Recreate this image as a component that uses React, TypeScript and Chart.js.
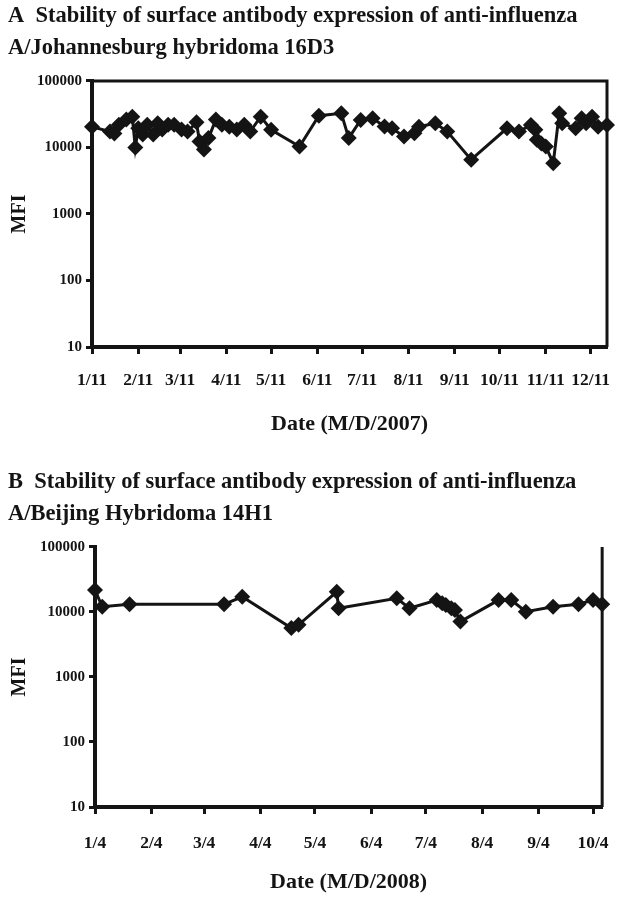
import React, { useEffect, useRef } from "react";
import { Chart, registerables } from "chart.js";

Chart.register(...registerables);

// ---------- Panel A data ----------
const titleA = [
  "A  Stability of surface antibody expression of anti-influenza",
  "A/Johannesburg hybridoma 16D3",
];
const axisTitleA = "Date (M/D/2007)";
const rangeA = ["2007-01-11", "2007-12-22"];
const tickDatesA = [
  "2007-01-11", "2007-02-11", "2007-03-11", "2007-04-11", "2007-05-11", "2007-06-11",
  "2007-07-11", "2007-08-11", "2007-09-11", "2007-10-11", "2007-11-11", "2007-12-11",
];
const tickLabelsA = ["1/11", "2/11", "3/11", "4/11", "5/11", "6/11", "7/11", "8/11", "9/11", "10/11", "11/11", "12/11"];
const datesA = [
  "2007-01-11", "2007-01-23", "2007-01-26", "2007-01-29", "2007-02-03", "2007-02-07",
  "2007-02-09", "2007-02-11", "2007-02-14", "2007-02-17", "2007-02-21", "2007-02-24",
  "2007-02-27", "2007-03-03", "2007-03-07", "2007-03-12", "2007-03-16", "2007-03-22",
  "2007-03-24", "2007-03-27", "2007-03-30", "2007-04-04", "2007-04-08", "2007-04-13",
  "2007-04-18", "2007-04-23", "2007-04-27", "2007-05-04", "2007-05-11", "2007-05-30",
  "2007-06-12", "2007-06-27", "2007-07-02", "2007-07-10", "2007-07-18", "2007-07-26",
  "2007-07-31", "2007-08-08", "2007-08-15", "2007-08-18", "2007-08-29", "2007-09-06",
  "2007-09-22", "2007-10-16", "2007-10-24", "2007-11-01", "2007-11-04", "2007-11-05",
  "2007-11-08", "2007-11-11", "2007-11-16", "2007-11-20", "2007-11-22", "2007-12-01",
  "2007-12-05", "2007-12-08", "2007-12-12", "2007-12-16", "2007-12-22",
];
const mfiA = [
  20500, 17300, 16200, 22000, 26200, 29000,
  10000, 19400, 15600, 22000, 15600, 23000,
  18600, 22000, 22000, 18600, 17300, 23800,
  12300, 9300, 13800, 26200, 22000, 20500,
  18600, 22000, 17300, 29000, 18400, 10300,
  30000, 32500, 13800, 25900, 27400, 20600,
  19400, 14600, 16300, 20500, 23000, 17300,
  6550, 19400, 17300, 21800, 18400, 13000,
  11500, 10300, 5800, 32500, 23000, 19400,
  27400, 23000, 29000, 20500, 21800,
];

// ---------- Panel B data ----------
const titleB = [
  "B  Stability of surface antibody expression of anti-influenza",
  "A/Beijing Hybridoma 14H1",
];
const axisTitleB = "Date (M/D/2008)";
const rangeB = ["2008-01-04", "2008-10-09"];
const tickDatesB = [
  "2008-01-04", "2008-02-04", "2008-03-04", "2008-04-04", "2008-05-04",
  "2008-06-04", "2008-07-04", "2008-08-04", "2008-09-04", "2008-10-04",
];
const tickLabelsB = ["1/4", "2/4", "3/4", "4/4", "5/4", "6/4", "7/4", "8/4", "9/4", "10/4"];
const datesB = [
  "2008-01-04", "2008-01-08", "2008-01-23", "2008-03-15", "2008-03-25", "2008-04-21",
  "2008-04-25", "2008-05-16", "2008-05-17", "2008-06-18", "2008-06-25", "2008-07-10",
  "2008-07-13", "2008-07-15", "2008-07-18", "2008-07-20", "2008-07-23", "2008-08-13",
  "2008-08-20", "2008-08-28", "2008-09-12", "2008-09-26", "2008-10-04", "2008-10-09",
];
const mfiB = [
  21700, 12000, 13100, 13100, 17100, 5640,
  6340, 20400, 11400, 16200, 11400, 15200,
  13600, 12800, 11400, 10700, 7100, 15200,
  15200, 10100, 12000, 13100, 15200, 13100,
];

const yTicks = [10, 100, 1000, 10000, 100000];
const yTitle = "MFI";

const FONT = '"Liberation Serif", "Times New Roman", Times, serif';
const INK = "#141414";

function dayOf(s: string, start: string) {
  const p = (t: string) => {
    const [y, m, d] = t.split("-").map(Number);
    return Date.UTC(y, m - 1, d);
  };
  return (p(s) - p(start)) / 86400000;
}

type PanelCfg = {
  title: string[];
  axisTitle: string;
  range: string[];
  tickDates: string[];
  tickLabels: string[];
  dates: string[];
  values: number[];
  frameTop: boolean;
  yWidth: number;
  titleTopPad: number;
  titleBottomPad: number;
  xHeight: number;
  xTickPad: number;
  xTitlePadBottom: number;
};

const framePlugin = {
  id: "frame",
  beforeDatasetsDraw(chart: any, _args: any, opts: any) {
    const { ctx, chartArea } = chart;
    ctx.save();
    ctx.strokeStyle = INK;
    ctx.lineWidth = 3;
    ctx.beginPath();
    if (opts && opts.top) {
      ctx.moveTo(chartArea.left, chartArea.top);
      ctx.lineTo(chartArea.right, chartArea.top);
    } else {
      ctx.moveTo(chartArea.right, chartArea.top);
    }
    ctx.lineTo(chartArea.right, chartArea.bottom);
    ctx.stroke();
    ctx.restore();
  },
};

function buildConfig(c: PanelCfg): any {
  const start = c.range[0];
  const tickDays = c.tickDates.map((d) => dayOf(d, start));
  const points = c.dates.map((d, i) => ({ x: dayOf(d, start), y: c.values[i] }));
  return {
    type: "line",
    data: {
      datasets: [
        {
          data: points,
          borderColor: INK,
          borderWidth: 3,
          backgroundColor: INK,
          pointStyle: "rectRot",
          pointRadius: 8,
          pointBorderWidth: 0,
          pointBackgroundColor: INK,
          pointBorderColor: INK,
          tension: 0,
          clip: false,
        },
      ],
    },
    options: {
      responsive: false,
      animation: false,
      devicePixelRatio: 1,
      layout: { padding: { left: 8, right: 21, top: 0, bottom: 0 } },
      plugins: {
        legend: { display: false },
        tooltip: { enabled: false },
        title: {
          display: true,
          text: c.title,
          align: "start",
          color: INK,
          font: { family: FONT, size: 22.5, weight: "bold", lineHeight: 1.42 },
          padding: { top: c.titleTopPad, bottom: c.titleBottomPad },
        },
        frame: { top: c.frameTop },
      },
      scales: {
        x: {
          type: "linear",
          min: 0,
          max: dayOf(c.range[1], start),
          afterBuildTicks: (s: any) => {
            s.ticks = tickDays.map((v) => ({ value: v }));
          },
          afterFit: (s: any) => {
            s.height = c.xHeight;
          },
          ticks: {
            autoSkip: false,
            maxRotation: 0,
            color: INK,
            padding: c.xTickPad,
            font: { family: FONT, size: 17.5, weight: "bold" },
            callback: (_v: any, i: number) => c.tickLabels[i],
          },
          grid: {
            display: true,
            drawOnChartArea: false,
            drawTicks: true,
            tickLength: 7,
            tickWidth: 3,
            tickColor: INK,
            color: INK,
          },
          border: { display: true, width: 4, color: INK },
          title: {
            display: true,
            text: c.axisTitle,
            color: INK,
            font: { family: FONT, size: 22, weight: "bold", lineHeight: 1.2 },
            padding: { top: 0, bottom: c.xTitlePadBottom },
          },
        },
        y: {
          type: "logarithmic",
          min: 10,
          max: 100000,
          afterBuildTicks: (s: any) => {
            s.ticks = yTicks.map((v) => ({ value: v }));
          },
          afterFit: (s: any) => {
            s.width = c.yWidth;
          },
          ticks: {
            color: INK,
            padding: 4,
            font: { family: FONT, size: 15, weight: "bold" },
            callback: (v: any) => String(v),
          },
          grid: {
            display: true,
            drawOnChartArea: false,
            drawTicks: true,
            tickLength: 6,
            tickWidth: 3,
            tickColor: INK,
            color: INK,
          },
          border: { display: true, width: 4, color: INK },
          title: {
            display: true,
            text: yTitle,
            color: INK,
            font: { family: FONT, size: 20, weight: "bold", lineHeight: 1.2 },
            padding: { top: 0, bottom: 0 },
          },
        },
      },
    },
    plugins: [framePlugin],
  };
}

function Panel(props: { cfg: PanelCfg; top: number; height: number }) {
  const ref = useRef<HTMLCanvasElement | null>(null);
  useEffect(() => {
    if (!ref.current) return;
    const chart = new Chart(ref.current, buildConfig(props.cfg));
    return () => chart.destroy();
  }, []);
  return (
    <canvas
      ref={ref}
      width={628}
      height={props.height}
      style={{ position: "absolute", left: 0, top: props.top, width: 628, height: props.height }}
    />
  );
}

const panelA: PanelCfg = {
  title: titleA,
  axisTitle: axisTitleA,
  range: rangeA,
  tickDates: tickDatesA,
  tickLabels: tickLabelsA,
  dates: datesA,
  values: mfiA,
  frameTop: true,
  yWidth: 84,
  titleTopPad: 0,
  titleBottomPad: 17,
  xHeight: 105,
  xTickPad: 16,
  xTitlePadBottom: 14,
};

const panelB: PanelCfg = {
  title: titleB,
  axisTitle: axisTitleB,
  range: rangeB,
  tickDates: tickDatesB,
  tickLabels: tickLabelsB,
  dates: datesB,
  values: mfiB,
  frameTop: false,
  yWidth: 87,
  titleTopPad: 6,
  titleBottomPad: 17,
  xHeight: 93,
  xTickPad: 19,
  xTitlePadBottom: 4,
};

export default function App() {
  return (
    <div style={{ position: "absolute", left: 0, top: 0, width: 628, height: 900, background: "#fff" }}>
      <Panel cfg={panelA} top={0} height={452} />
      <Panel cfg={panelB} top={460} height={440} />
    </div>
  );
}
